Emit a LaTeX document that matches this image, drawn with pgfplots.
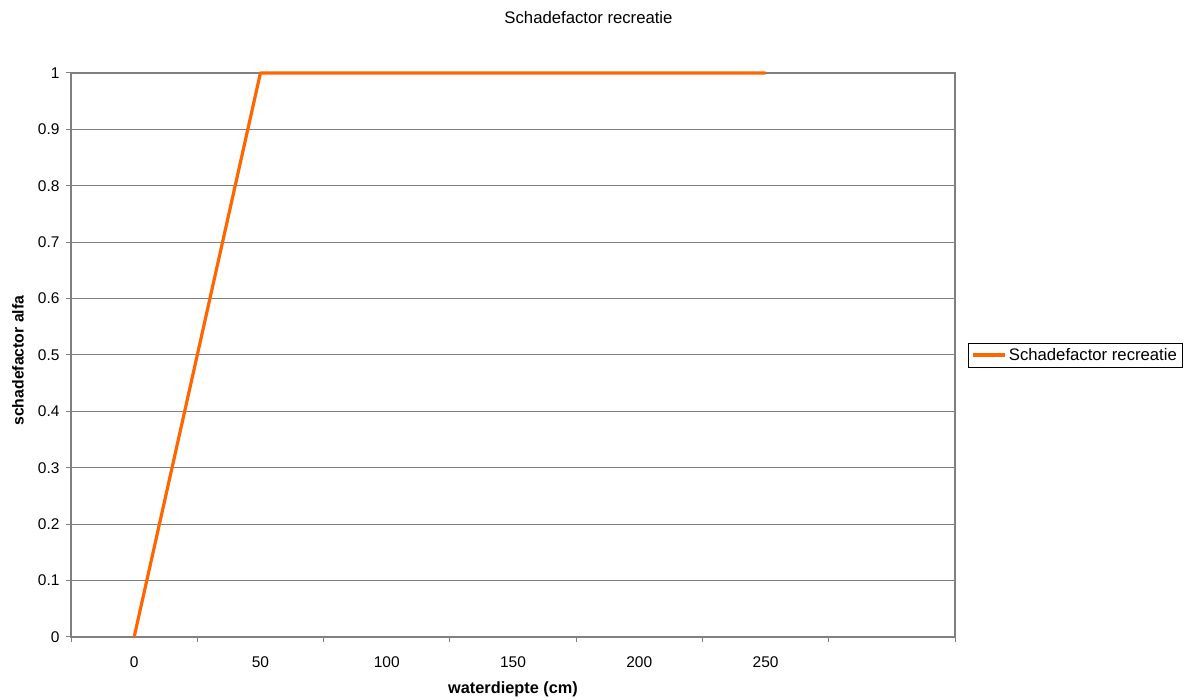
\documentclass[border=0pt]{standalone}
\usepackage{pgfplots}
\pgfplotsset{compat=1.18}
\usepackage{fontspec}
\setmainfont{Liberation Sans}
\definecolor{orangeline}{HTML}{FF6600}
\definecolor{axgray}{HTML}{808080}
\begin{document}
\begin{tikzpicture}[x=1pt,y=1pt]
\path[use as bounding box] (0,0) rectangle (1186,700);
\begin{axis}[
  at={(71pt,63pt)}, anchor=south west,
  scale only axis, width=884pt, height=564pt,
  xmin=-25, xmax=325, ymin=0, ymax=1,
  xtick={0,50,...,250},
  minor xtick={-25,25,...,325},
  ytick={0,0.1,...,1.0},
  xtick pos=bottom, ytick pos=left,
  major x tick style={draw=none},
  tick align=outside,
  major tick length=5pt, minor tick length=5pt,
  tick style={axgray, line width=1pt},
  ymajorgrids=true,
  grid style={axgray, line width=1pt},
  axis line style={axgray, line width=1.6pt},
  /pgf/number format/assume math mode=true,
  /pgf/number format/fixed,
  yticklabel style={font=\fontsize{15.5}{18}\selectfont, xshift=-3pt},
  xticklabel style={font=\fontsize{15.5}{18}\selectfont, yshift=-11pt},
  title={Schadefactor recreatie},
  title style={at={(0.5854,1.088)}, anchor=center, font=\fontsize{16.7}{19}\selectfont},
  xlabel={\bfseries waterdiepte (cm)},
  xlabel style={at={(0.5,-0.092)}, anchor=center, font=\fontsize{16.3}{19}\selectfont},
  ylabel={\bfseries schadefactor alfa},
  ylabel style={at={(-0.06,0.49)}, anchor=center, font=\fontsize{15.8}{19}\selectfont},
  legend style={at={(1.0147,0.5213)}, anchor=north west, draw=black, line width=0.8pt,
    font=\fontsize{16.7}{19}\selectfont, inner xsep=3pt, inner ysep=3pt},
  legend cell align=left,
  legend image code/.code={\draw[#1, line width=3.5pt] (0pt,0pt) -- (32pt,0pt);},
  clip=false,
]
\addplot[orangeline, line width=3.2pt, line join=round] coordinates {(0,0) (50,1) (100,1) (150,1) (200,1) (250,1)};
\addlegendentry{Schadefactor recreatie}
\end{axis}
\end{tikzpicture}
\end{document}
